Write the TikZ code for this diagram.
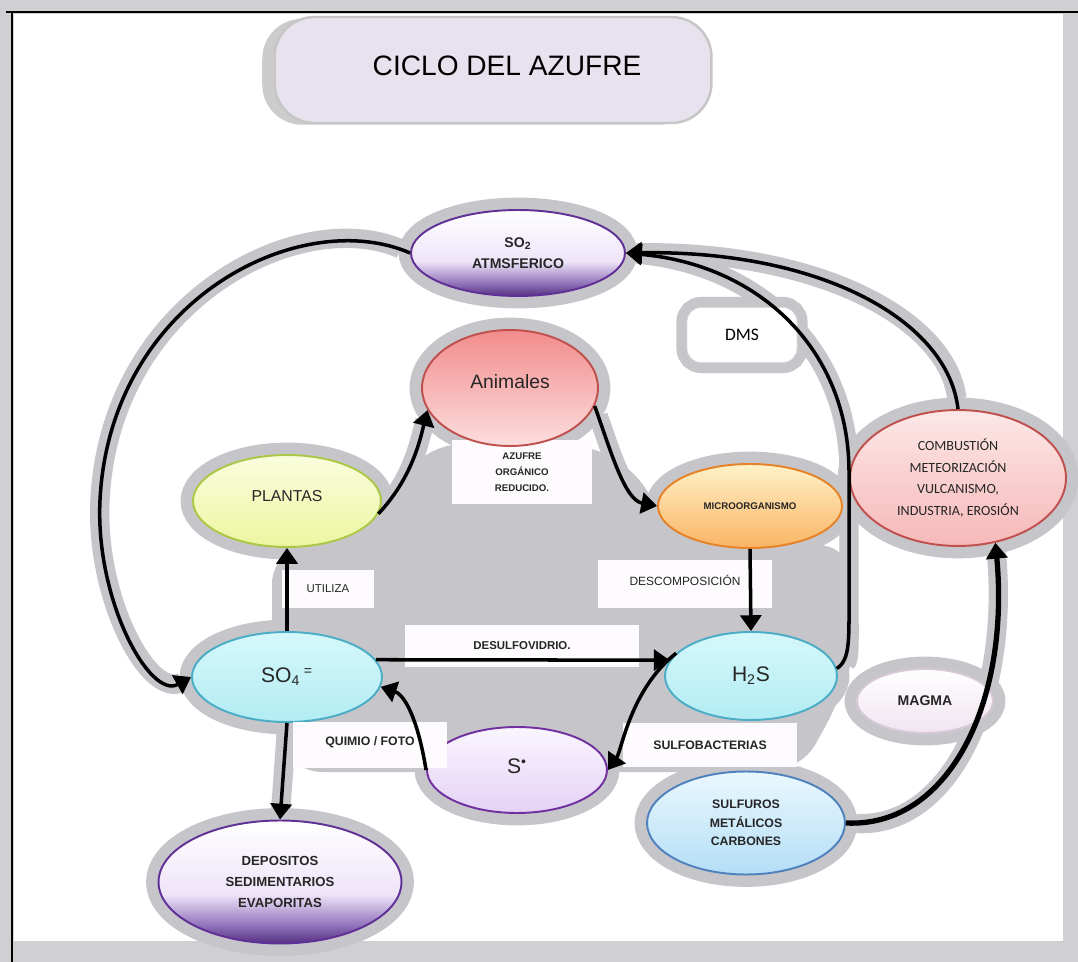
\documentclass[tikz,border=0pt]{standalone}
\usepackage{fontspec}
\setmainfont{Liberation Sans}
\newfontfamily\calib{Carlito}
\usetikzlibrary{shapes.geometric,arrows.meta,shadows,calc}
\pgfdeclarelayer{back}
\pgfsetlayers{back,main}
\definecolor{framegrey}{RGB}{208,208,210}
\definecolor{haze}{RGB}{198,198,202}
\definecolor{tagwhite}{RGB}{253,251,253}
\definecolor{titlefill}{RGB}{232,226,238}
\definecolor{sopurple}{RGB}{96,48,150}
\definecolor{sofoot}{RGB}{84,48,130}
\definecolor{somid}{RGB}{150,120,190}
\definecolor{solight}{RGB}{238,228,248}
\definecolor{animred}{RGB}{192,80,77}
\definecolor{animtop}{RGB}{242,140,140}
\definecolor{animbot}{RGB}{252,222,222}
\definecolor{plantedge}{RGB}{170,200,70}
\definecolor{planttop}{RGB}{250,253,222}
\definecolor{plantbot}{RGB}{236,246,160}
\definecolor{microedge}{RGB}{230,130,40}
\definecolor{microtop}{RGB}{255,242,200}
\definecolor{microbot}{RGB}{250,180,100}
\definecolor{combtop}{RGB}{253,232,232}
\definecolor{combbot}{RGB}{246,184,184}
\definecolor{cyanedge}{RGB}{75,172,198}
\definecolor{cyantop}{RGB}{214,248,251}
\definecolor{cyanbot}{RGB}{178,236,243}
\definecolor{sdotedge}{RGB}{112,48,160}
\definecolor{sdottop}{RGB}{250,245,254}
\definecolor{sdotbot}{RGB}{228,210,246}
\definecolor{magmaedge}{RGB}{215,200,215}
\definecolor{magmabot}{RGB}{240,228,240}
\definecolor{sulfedge}{RGB}{79,129,189}
\definecolor{sulftop}{RGB}{234,248,254}
\definecolor{sulfbot}{RGB}{180,222,246}
\pgfdeclareverticalshading{purplefoot}{100bp}{color(0bp)=(sofoot); color(25bp)=(sofoot); color(33bp)=(somid); color(45bp)=(solight); color(75bp)=(white); color(100bp)=(white)}
\begin{document}
\begin{tikzpicture}[x=0.02cm,y=-0.02cm,
  bubble/.style={ellipse,draw,line width=1.1pt,inner sep=0pt,align=center,text=black!85},
  tag/.style={rectangle,fill=tagwhite,inner sep=0pt,align=center,text=black!85},
  link/.style={line width=2pt,-{Triangle[length=9pt,width=12pt]}},
  glow/.style={draw=haze,line width=11pt,shorten <=6pt,shorten >=6pt}]
\useasboundingbox (0,0) rectangle (1078,962);
\begin{pgfonlayer}{back}
\fill[framegrey] (0,0) rectangle (1078,962);
\fill[white] (14,14) rectangle (1063,941);
\draw[line width=1.6pt] (6,12) -- (1078,12);
\draw[line width=1.6pt] (12,12) -- (12,962);
\fill[haze,rounded corners=18pt] (272,552) -- (380,522) -- (425,445) -- (600,445) -- (655,492) -- (665,545) -- (850,545) -- (858,640) -- (840,700) -- (800,772) -- (290,772) -- (272,722) -- cycle;
\end{pgfonlayer}

\node[draw=gray!45,line width=1.4pt,fill=titlefill,rounded corners=0.8cm,minimum width=8.74cm,minimum height=2.12cm,
  general shadow={fill=gray!40,shadow xshift=-7pt,shadow yshift=-1pt},font=\fontsize{16}{18}\selectfont] (title) at (493,70)
  {\raisebox{4.5pt}{\hspace*{16pt}CICLO DEL AZUFRE}};

\node[tag,minimum width=2.8cm,minimum height=1.3cm,font=\bfseries\fontsize{5.5}{9}\selectfont] (azufre) at (522,472) {AZUFRE\\ORGÁNICO\\REDUCIDO.};

\node[bubble,draw=sopurple,shading=purplefoot,minimum width=4.28cm,minimum height=1.72cm,font=\bfseries\fontsize{8}{12}\selectfont] (so2) at (518,253) {SO\textsubscript{2}\\ATMSFERICO};
\node[draw=white!85!black,fill=white,rounded corners=8pt,minimum width=2.2cm,minimum height=1.1cm,
  preaction={draw=haze,line width=12pt},font=\calib\fontsize{10}{12}\selectfont] (dms) at (742,335) {DMS};
\node[bubble,draw=animred,top color=animtop,bottom color=animbot,minimum width=3.52cm,minimum height=2.32cm,font=\fontsize{11}{13}\selectfont] (anim) at (510,388) {\raisebox{7pt}{Animales}};
\node[bubble,draw=plantedge,top color=planttop,bottom color=plantbot,minimum width=3.76cm,minimum height=1.84cm,font=\fontsize{9}{11}\selectfont] (plantas) at (287,501) {\raisebox{6pt}{PLANTAS}};
\node[bubble,draw=microedge,top color=microtop,bottom color=microbot,minimum width=3.68cm,minimum height=1.68cm,font=\bfseries\fontsize{5.5}{6}\selectfont] (micro) at (750,506) {MICROORGANISMO};
\node[bubble,draw=animred,top color=combtop,bottom color=combbot,minimum width=4.32cm,minimum height=2.72cm,font=\calib\fontsize{8}{12.4}\selectfont] (comb) at (958,478) {COMBUSTIÓN\\METEORIZACIÓN\\VULCANISMO,\\INDUSTRIA, EROSIÓN};
\node[bubble,draw=cyanedge,top color=cyantop,bottom color=cyanbot,minimum width=3.8cm,minimum height=1.8cm,font=\fontsize{12}{14}\selectfont] (so4) at (287,677) {SO\textsubscript{4}\,\textsuperscript{=}};
\node[bubble,draw=cyanedge,top color=cyantop,bottom color=cyanbot,minimum width=3.44cm,minimum height=1.76cm,font=\fontsize{12}{14}\selectfont] (h2s) at (751,676) {H\textsubscript{2}S};
\node[bubble,draw=magmaedge,top color=white,bottom color=magmabot,minimum width=2.72cm,minimum height=1.28cm,font=\bfseries\fontsize{8}{10}\selectfont] (magma) at (925,701) {MAGMA};
\node[bubble,draw=sdotedge,top color=sdottop,bottom color=sdotbot,minimum width=3.6cm,minimum height=1.72cm,font=\fontsize{12}{14}\selectfont] (sdot) at (517,770) {\raisebox{4pt}{S\textsuperscript{\textbullet}}};
\node[bubble,draw=sulfedge,top color=sulftop,bottom color=sulfbot,minimum width=3.96cm,minimum height=2.06cm,font=\bfseries\fontsize{7}{10.5}\selectfont] (sulfur) at (746,823) {SULFUROS\\METÁLICOS\\CARBONES};
\node[bubble,draw=sopurple,shading=purplefoot,minimum width=4.86cm,minimum height=2.46cm,font=\bfseries\fontsize{7.5}{12}\selectfont] (depos) at (280,882) {DEPOSITOS\\SEDIMENTARIOS\\EVAPORITAS};

\begin{pgfonlayer}{back}
\foreach \nd in {so2,anim,plantas,micro,comb,so4,h2s,magma,sdot,sulfur,depos}
  \draw[haze,line width=13pt] let \p1=(\nd.east), \p2=(\nd.north), \p3=(\nd.center) in (\p3) ellipse ({\x1-\x3} and {\y2-\y3});
\end{pgfonlayer}

\foreach \lnk in {
  {(so2.west) .. controls (300,205) and (110,300) .. (100,500) .. controls (95,600) and (150,700) .. (so4.west)},
  {(plantas.-8) .. controls (412,478) and (420,440) .. (anim.195)},
  {(anim.-12) .. controls (612,455) and (625,500) .. (micro.west)},
  {(h2s.5) .. controls (850,660) and (849,640) .. (849,600) -- (849,470) .. controls (848,350) and (760,265) .. (so2.east)},
  {(comb.north) .. controls (948,320) and (820,250) .. (so2.east)},
  {(so4.south) -- (depos.north)}}{
  \begin{pgfonlayer}{back}\draw[glow] \lnk;\end{pgfonlayer}
  \draw[link] \lnk;}
\begin{pgfonlayer}{back}\draw[glow] (sulfur.east) .. controls (950,828) and (1010,700) .. (comb.-60);\end{pgfonlayer}
\draw[link,line width=3pt] (sulfur.east) .. controls (950,828) and (1010,700) .. (comb.-60);

\node[tag,minimum width=1.86cm,minimum height=0.76cm,font=\fontsize{6.5}{8}\selectfont] (utiliza) at (328,589) {UTILIZA};
\node[tag,minimum width=3.5cm,minimum height=0.96cm,font=\fontsize{6.8}{8}\selectfont] (descomp) at (685,584) {\raisebox{4pt}{DESCOMPOSICIÓN}};
\node[tag,minimum width=4.7cm,minimum height=0.86cm,font=\bfseries\fontsize{6.5}{8}\selectfont] (desulf) at (522,646) {DESULFOVIDRIO.};
\node[tag,minimum width=3.08cm,minimum height=0.92cm,font=\bfseries\fontsize{7}{8}\selectfont] (quimio) at (370,745) {\raisebox{5pt}{QUIMIO / FOTO}};
\node[tag,minimum width=3.48cm,minimum height=0.88cm,font=\bfseries\fontsize{7}{8}\selectfont] (sulfob) at (710,745) {SULFOBACTERIAS};

\draw[link] (so4.north) -- (plantas.south);
\draw[link] (micro.south) -- (h2s.north);
\draw[link] (so4.11) -- (h2s.169);
\draw[link] (h2s.163) .. controls (630,690) and (622,750) .. (sdot.east);
\draw[link] (sdot.west) .. controls (418,720) and (405,695) .. (so4.-6);
\end{tikzpicture}
\end{document}
